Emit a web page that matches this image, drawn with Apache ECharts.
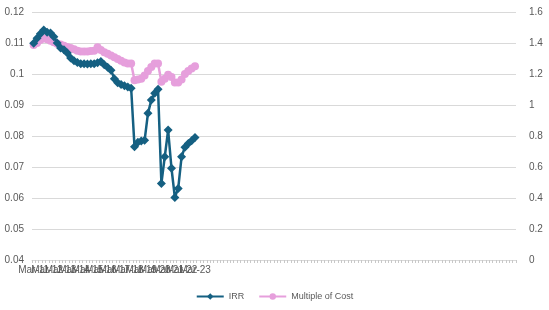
<!DOCTYPE html>
<html>
<head>
<meta charset="utf-8">
<script src="https://cdn.jsdelivr.net/npm/echarts@6/dist/echarts.min.js"></script>
<style>
  html, body { margin: 0; padding: 0; background: #fff; }
  #chart { width: 549px; height: 310px; }
</style>
</head>
<body>
<div id="chart"></div>
<script>
var dates = [
  'Mar-11','Jun-11','Sep-11','Dec-11','Mar-12','Jun-12','Sep-12','Dec-12',
  'Mar-13','Jun-13','Sep-13','Dec-13','Mar-14','Jun-14','Sep-14','Dec-14',
  'Mar-15','Jun-15','Sep-15','Dec-15','Mar-16','Jun-16','Sep-16','Dec-16',
  'Mar-17','Jun-17','Sep-17','Dec-17','Mar-18','Jun-18','Sep-18','Dec-18',
  'Mar-19','Jun-19','Sep-19','Dec-19','Mar-20','Jun-20','Sep-20','Dec-20',
  'Mar-21','Jun-21','Sep-21','Dec-21','Mar-22','Jun-22','Sep-22','Dec-22',
  'Mar-23'
];
// axis keeps running empty to the right
var totalSlots = 144;

var irr = [
  0.1099, 0.1115, 0.1130, 0.1142, 0.1135, 0.1132, 0.1120, 0.1100,
  0.1084, 0.1078, 0.1068, 0.1052, 0.1043, 0.1037, 0.1033, 0.1033,
  0.1032, 0.1033, 0.1033, 0.1036, 0.1040, 0.1030, 0.1022, 0.1012,
  0.0985, 0.0972, 0.0966, 0.0962, 0.0958, 0.0954, 0.0765, 0.0780,
  0.0784, 0.0786, 0.0873, 0.0916, 0.0938, 0.0951, 0.0647, 0.0733,
  0.0819, 0.0696, 0.0602, 0.0631, 0.0733, 0.0764, 0.0776, 0.0785,
  0.0795
];
var multipleOfCost = [
  1.387, 1.400, 1.420, 1.430, 1.425, 1.415, 1.405, 1.395,
  1.390, 1.382, 1.375, 1.368, 1.360, 1.350, 1.345, 1.345,
  1.345, 1.348, 1.350, 1.372, 1.355, 1.340, 1.330, 1.320,
  1.308, 1.297, 1.285, 1.275, 1.268, 1.268, 1.160, 1.165,
  1.170, 1.190, 1.220, 1.245, 1.268, 1.268, 1.150, 1.170,
  1.195, 1.180, 1.145, 1.145, 1.165, 1.200, 1.220, 1.235,
  1.250
];

var categories = dates.slice();
while (categories.length < totalSlots) categories.push('');

var chart = echarts.init(document.getElementById('chart'));
var txt = '#595959';
var font = "'Liberation Sans', Arial, sans-serif";

chart.setOption({
  animation: false,
  textStyle: { fontFamily: font },
  grid: { left: 32, right: 33, top: 12, bottom: 50 },
  legend: {
    bottom: 4,
    left: 'center',
    itemWidth: 27,
    itemHeight: 8,
    itemGap: 14,
    textStyle: { color: txt, fontSize: 9, fontFamily: font },
    data: ['IRR', 'Multiple of Cost']
  },
  xAxis: {
    type: 'category',
    data: categories,
    boundaryGap: true,
    axisLine: { lineStyle: { color: '#d9d9d9' } },
    axisTick: { show: true, interval: 0, length: 3, lineStyle: { color: '#c8c8c8' } },
    axisLabel: {
      color: txt,
      fontSize: 10,
      margin: 5,
      hideOverlap: false,
      interval: 0,
      formatter: function (val, idx) { return idx % 4 === 0 ? val : ''; }
    }
  },
  yAxis: [{
    type: 'value',
    min: 0.04,
    max: 0.12,
    interval: 0.01,
    axisLine: { show: false },
    axisTick: { show: false },
    splitLine: { lineStyle: { color: '#d9d9d9' } },
    axisLabel: { color: txt, fontSize: 10, margin: 8 }
  }, {
    type: 'value',
    min: 0,
    max: 1.6,
    interval: 0.2,
    axisLine: { show: false },
    axisTick: { show: false },
    splitLine: { show: false },
    axisLabel: { color: txt, fontSize: 10, margin: 13 }
  }],
  series: [{
    name: 'IRR',
    type: 'line',
    yAxisIndex: 0,
    data: irr,
    symbol: 'diamond',
    symbolSize: 9,
    showAllSymbol: true,
    color: '#156082',
    lineStyle: { width: 2.5, color: '#156082' },
    itemStyle: { color: '#156082' },
    z: 3
  }, {
    name: 'Multiple of Cost',
    type: 'line',
    yAxisIndex: 1,
    data: multipleOfCost,
    symbol: 'circle',
    symbolSize: 8,
    showAllSymbol: true,
    color: '#e69fdc',
    lineStyle: { width: 2.5, color: '#e69fdc' },
    itemStyle: { color: '#e69fdc' },
    z: 2
  }]
});
</script>
</body>
</html>
